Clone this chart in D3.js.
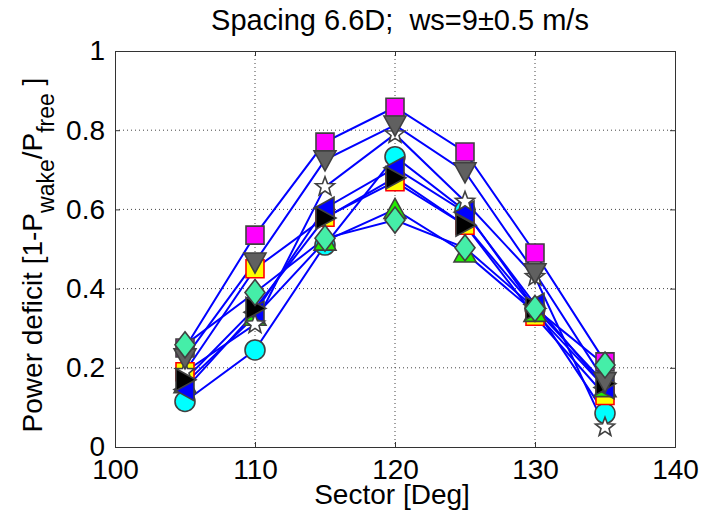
<!DOCTYPE html>
<html>
<head>
<meta charset="utf-8">
<script src="https://cdn.jsdelivr.net/npm/d3@7"></script>
<style>
  html, body { margin: 0; padding: 0; background: #fff; }
  svg { display: block; font-family: "Liberation Sans", Arial, sans-serif; }
</style>
</head>
<body>
<svg id="chart" width="708" height="512"></svg>
<script>
// Sector directions (deg)
const sectors = [105, 110, 115, 120, 125, 130, 135];
const xTicks = [100, 110, 120, 130, 140];
const yTicks = [0, 0.2, 0.4, 0.6, 0.8, 1];

// Power deficit per series, one value per sector
const circleVals   = [0.115, 0.245, 0.51, 0.733, 0.597, 0.35, 0.085];
const sqYellowVals = [0.19, 0.45, 0.58, 0.67, 0.56, 0.33, 0.13];
const triUpVals    = [0.16, 0.33, 0.52, 0.60, 0.49, 0.34, 0.15];
const triLeftVals  = [0.145, 0.34, 0.603, 0.705, 0.593, 0.36, 0.15];
const starVals     = [0.19, 0.31, 0.657, 0.79, 0.62, 0.43, 0.05];
const triRightVals = [0.17, 0.35, 0.578, 0.68, 0.56, 0.35, 0.16];
const sqMagVals    = [0.25, 0.535, 0.77, 0.858, 0.745, 0.49, 0.215];
const triDownVals  = [0.225, 0.467, 0.725, 0.813, 0.695, 0.44, 0.165];
const diamondVals  = [0.258, 0.39, 0.527, 0.573, 0.503, 0.35, 0.207];

const series = [
  { vals: circleVals,   shape: "circle",   fill: "#00ffff", edge: "#404040" },
  { vals: sqYellowVals, shape: "square",   fill: "#ffff00", edge: "#ff0000" },
  { vals: triUpVals,    shape: "triUp",    fill: "#22ee00", edge: "#404040" },
  { vals: triLeftVals,  shape: "triLeft",  fill: "#0000ff", edge: "#404040" },
  { vals: starVals,     shape: "star",     fill: "#ffffff", edge: "#404040" },
  { vals: triRightVals, shape: "triRight", fill: "#000000", edge: "#404040" },
  { vals: sqMagVals,    shape: "square",   fill: "#ff00ff", edge: "#404040" },
  { vals: triDownVals,  shape: "triDown",  fill: "#606060", edge: "#404040" },
  { vals: diamondVals,  shape: "diamond",  fill: "#45eea8", edge: "#404040" }
];

const svg = d3.select("#chart");
const plotLeft = 115, plotRight = 675, plotTop = 51, plotBottom = 447;

const x = d3.scaleLinear().domain([100, 140]).range([plotLeft, plotRight]);
const y = d3.scaleLinear().domain([0, 1]).range([plotBottom, plotTop]);

// Dotted grid
const grid = svg.append("g");
grid.selectAll("line.gx").data(xTicks.slice(1, -1)).join("line")
  .attr("x1", d => x(d)).attr("x2", d => x(d))
  .attr("y1", plotTop).attr("y2", plotBottom)
  .attr("stroke", "#444").attr("stroke-width", 1)
  .attr("stroke-dasharray", "1,3");
grid.selectAll("line.gy").data(yTicks.slice(1, -1)).join("line")
  .attr("x1", plotLeft).attr("x2", plotRight)
  .attr("y1", d => y(d)).attr("y2", d => y(d))
  .attr("stroke", "#444").attr("stroke-width", 1)
  .attr("stroke-dasharray", "1,3");

// Axes with inward ticks
const fontSize = 28;
svg.append("g").attr("transform", `translate(0,${plotBottom})`)
  .call(d3.axisBottom(x).tickValues(xTicks).tickSize(-5).tickPadding(12).tickFormat(d3.format("d")));
svg.append("g").attr("transform", `translate(${plotLeft},0)`)
  .call(d3.axisLeft(y).tickValues(yTicks).tickSize(-5).tickPadding(10).tickFormat(d => d === 0 || d === 1 ? String(d) : d3.format(".1f")(d)));
svg.append("g").attr("transform", `translate(0,${plotTop})`)
  .call(d3.axisTop(x).tickValues(xTicks).tickSize(-5).tickFormat(""));
svg.append("g").attr("transform", `translate(${plotRight},0)`)
  .call(d3.axisRight(y).tickValues(yTicks).tickSize(-5).tickFormat(""));
svg.selectAll(".domain").attr("stroke", "#333").attr("stroke-width", 1);
svg.selectAll(".tick line").attr("stroke", "#333");
svg.selectAll(".tick text").attr("font-size", fontSize).attr("fill", "#000")
  .attr("font-family", "'Liberation Sans', Arial, sans-serif");

// Series lines
const line = d3.line().x((d, i) => x(sectors[i])).y(d => y(d));
svg.append("g").selectAll("path").data(series).join("path")
  .attr("d", s => line(s.vals))
  .attr("fill", "none").attr("stroke", "#0000ff").attr("stroke-width", 2);

// Marker shapes
function markerPath(shape) {
  switch (shape) {
    case "square": return "M-9,-9H9V9H-9Z";
    case "circle": return "M10,0A10,10 0 1,1 -10,0A10,10 0 1,1 10,0Z";
    case "diamond": return "M0,-13L10,0L0,13L-10,0Z";
    case "triUp": return "M0,-11L11,9L-11,9Z";
    case "triDown": return "M0,11L11,-9L-11,-9Z";
    case "triRight": return "M11,0L-9,11L-9,-11Z";
    case "triLeft": return "M-11,0L9,11L9,-11Z";
    case "star": {
      const pts = [];
      for (let k = 0; k < 10; k++) {
        const r = k % 2 === 0 ? 10 : 4.2;
        const a = -Math.PI / 2 + k * Math.PI / 5;
        pts.push([r * Math.cos(a), r * Math.sin(a)]);
      }
      return "M" + pts.map(p => p[0].toFixed(2) + "," + p[1].toFixed(2)).join("L") + "Z";
    }
  }
}

const markers = svg.append("g");
series.forEach(s => {
  markers.append("g").selectAll("path").data(s.vals).join("path")
    .attr("transform", (d, i) => `translate(${x(sectors[i])},${y(d)})`)
    .attr("d", markerPath(s.shape))
    .attr("fill", s.fill).attr("stroke", s.edge).attr("stroke-width", 1.6)
    .attr("stroke-linejoin", "miter");
});

// Title
svg.append("text").attr("x", 400).attr("y", 30)
  .attr("text-anchor", "middle").attr("font-size", 29)
  .style("white-space", "pre")
  .text("Spacing 6.6D;  ws=9\u00B10.5 m/s");

// X label
svg.append("text").attr("x", 392).attr("y", 504)
  .attr("text-anchor", "middle").attr("font-size", fontSize)
  .text("Sector [Deg]");

// Y label with subscripts
const yl = svg.append("text")
  .attr("transform", "translate(42,255) rotate(-90)")
  .attr("text-anchor", "middle").attr("font-size", fontSize);
yl.append("tspan").text("Power deficit [1-P");
yl.append("tspan").attr("font-size", 23).attr("dy", 12).text("wake");
yl.append("tspan").attr("dy", -12).text("/P");
yl.append("tspan").attr("font-size", 23).attr("dy", 12).text("free");
yl.append("tspan").attr("dy", -12).text(" ]");
</script>
</body>
</html>
